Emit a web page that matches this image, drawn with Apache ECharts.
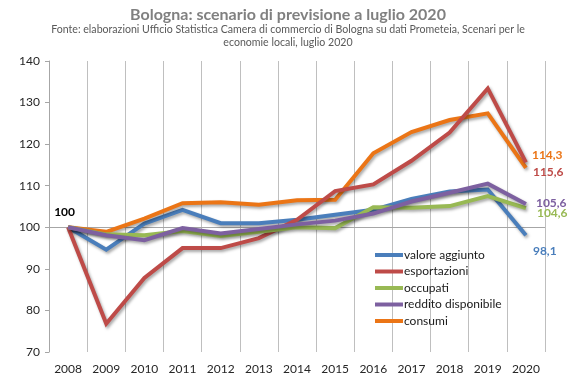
<!DOCTYPE html>
<html>
<head>
<meta charset="utf-8">
<script src="https://cdn.jsdelivr.net/npm/echarts@6/dist/echarts.min.js"></script>
<style>
html,body{margin:0;padding:0;background:#fff;}
#c{width:576px;height:386px;}
</style>
</head>
<body>
<div id="c"></div>
<script>
var years = ['2008','2009','2010','2011','2012','2013','2014','2015','2016','2017','2018','2019','2020'];
var valoreAggiunto = [100, 94.6, 100.9, 104.2, 101.0, 101.0, 101.8, 103.0, 104.2, 106.8, 108.6, 109.1, 98.1];
var esportazioni = [100, 76.8, 87.8, 95.0, 95.0, 97.4, 101.8, 108.7, 110.3, 116.0, 122.8, 133.4, 115.6];
var occupati = [100, 98.3, 98.1, 99.1, 97.9, 98.9, 100.0, 99.8, 104.8, 104.7, 105.1, 107.5, 104.6];
var reddito = [100, 98.1, 96.9, 99.8, 98.5, 99.6, 100.7, 101.6, 103.3, 106.2, 108.3, 110.5, 105.6];
var consumi = [100, 98.9, 102.1, 105.8, 106.0, 105.4, 106.5, 106.6, 117.8, 122.9, 125.8, 127.4, 114.3];
var seriesNames = ['valore aggiunto','esportazioni','occupati','reddito disponibile','consumi'];
var endLabels = ['98,1','115,6','104,6','105,6','114,3'];

var colors = ['#4A7EBB','#BE4B48','#98B954','#7D60A0','#EB7516'];
var labelShift = [[7,16],[7,10],[11,5],[10,-1],[6,-12.5]];
var allData = [valoreAggiunto, esportazioni, occupati, reddito, consumi];
var font = 'Lato, "Open Sans", sans-serif';

var series = allData.map(function(d, i){
  var last = d.length - 1;
  var data = d.map(function(v, j){
    var item = {value: v};
    if (j === last) {
      item.label = {show: true, position: 'right', distance: 0,
        formatter: endLabels[i], color: colors[i], fontSize: 12, fontWeight: 'bold', fontFamily: font};
    }
    if (j === 0 && i === 0) {
      item.label = {show: true, position: 'top', distance: 0,
        formatter: '100', color: '#000', fontSize: 12, fontWeight: 'bold', fontFamily: font};
    }
    return item;
  });
  var s = {
    name: seriesNames[i], type: 'line', data: data,
    symbol: 'circle', symbolSize: 0, showSymbol: true,
    z: 3 + (i === 4 ? 0 : i),
    label: {show: false},
    lineStyle: {width: 4, color: colors[i], shadowColor: 'rgba(0,0,0,0.35)', shadowBlur: 3, shadowOffsetX: 1.5, shadowOffsetY: 2, join: 'miter'},
    itemStyle: {color: colors[i]},
    emphasis: {disabled: true},
    labelLayout: function(p){
      if (p.dataIndex === last) return {dx: labelShift[i][0], dy: labelShift[i][1], hideOverlap: false};
      if (p.dataIndex === 0) return {dx: -3.5, dy: -9, hideOverlap: false};
      return {hideOverlap: false};
    },
    animation: false
  };
  if (i === 0) {
    s.markLine = {silent: true, symbol: 'none', label: {show: false},
      lineStyle: {color: '#A6A6A6', width: 1, type: 'solid'},
      data: [{yAxis: 100}], animation: false, z: 1};
  }
  return s;
});

var chart = echarts.init(document.getElementById('c'), null, {renderer: 'canvas'});
chart.setOption({
  animation: false,
  backgroundColor: '#fff',
  title: [{
    text: 'Bologna: scenario di previsione a luglio 2020',
    left: 'center', top: 2,
    textStyle: {fontSize: 16, fontWeight: 'bold', color: '#808080', fontFamily: font}
  },{
    text: 'Fonte: elaborazioni Ufficio Statistica Camera di commercio di Bologna su dati Prometeia, Scenari per le',
    left: 'center', top: 24, padding: 0,
    textStyle: {fontSize: 10.6, fontWeight: 'normal', color: '#595959', fontFamily: font}
  },{
    text: 'economie locali, luglio 2020',
    left: 'center', top: 37, padding: 0,
    textStyle: {fontSize: 10.6, fontWeight: 'normal', color: '#595959', fontFamily: font}
  }],
  legend: {
    orient: 'vertical', left: 375, top: 248, padding: 0,
    itemWidth: 28, itemHeight: 4, itemGap: 2.5, icon: 'rect',
    data: seriesNames,
    textStyle: {fontSize: 12, color: '#1a1a1a', fontFamily: font, padding: [0,0,0,-4], lineHeight: 14}
  },
  grid: {left: 49, right: 31, top: 61, bottom: 34, containLabel: false},
  xAxis: {
    type: 'category', data: years, boundaryGap: true,
    axisLine: {show: false}, axisTick: {show: false},
    axisLabel: {color: '#262626', fontSize: 12, fontFamily: font, margin: 11},
    splitLine: {show: true, interval: 0, lineStyle: {color: '#BFBFBF', width: 1}}
  },
  yAxis: {
    type: 'value', min: 70, max: 140, interval: 10,
    axisLine: {show: true, lineStyle: {color: '#A6A6A6'}},
    axisTick: {show: true, length: 4, lineStyle: {color: '#A6A6A6'}},
    axisLabel: {color: '#262626', fontSize: 12, fontFamily: font, margin: 9},
    splitLine: {show: false}
  },
  series: series
});
</script>
</body>
</html>
